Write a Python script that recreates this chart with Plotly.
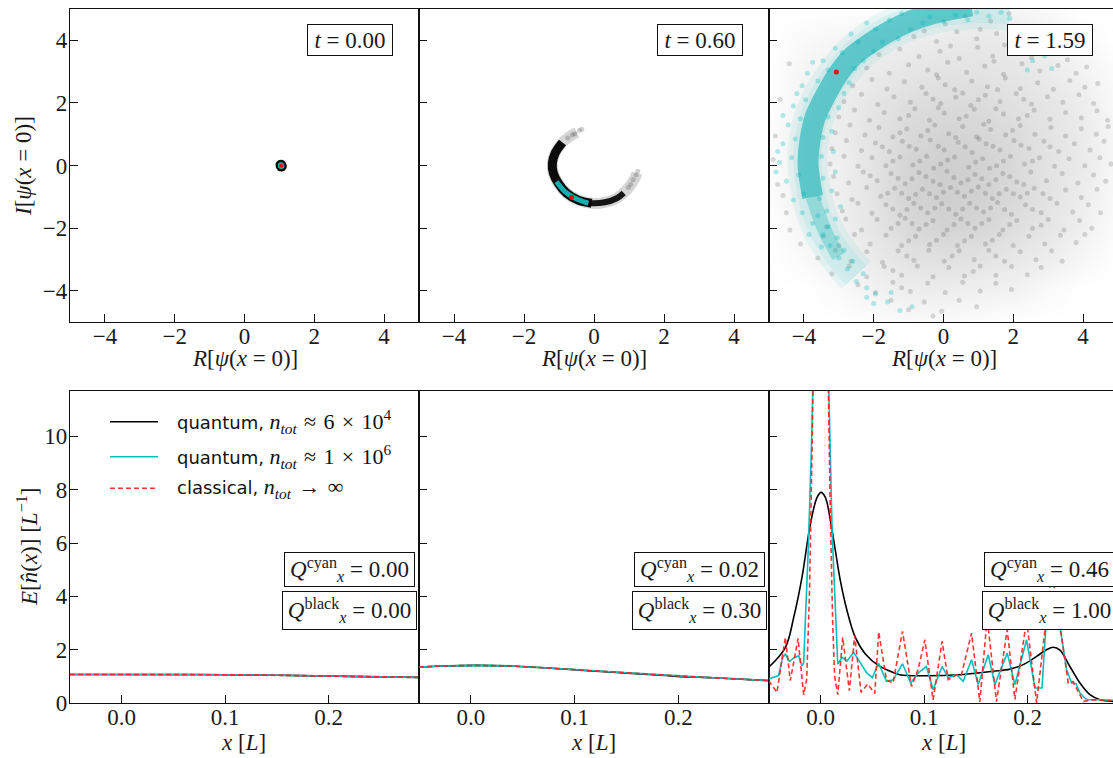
import plotly.graph_objects as go

# ---------------- data ----------------
t_labels = ["0.00", "0.60", "1.59"]
q_cyan = ["0.00", "0.02", "0.46"]
q_black = ["0.00", "0.30", "1.00"]

top_ticks = [-4, -2, 0, 2, 4]
bot_xticks = [0.0, 0.1, 0.2]
bot_xticktext = ["0.0", "0.1", "0.2"]
bot_yticks = [0, 2, 4, 6, 8, 10]

# t = 0.00 : all samples on one spot
t000_black = [(1.05, 0.0), (1.03, 0.02), (1.07, -0.02), (1.05, 0.03), (1.05, -0.03)]
t000_cyan = [(1.05, 0.0), (1.04, 0.01), (1.06, -0.01)]
t000_red = [(1.05, 0.0)]

# t = 0.60 : crescent
t060_fuzz = [(-0.49, 1.06), (-0.69, 0.93), (-0.92, 0.72), (-1.11, 0.40), (-1.19, 0.08),
             (-1.16, -0.24), (-1.02, -0.56), (-0.78, -0.88), (-0.45, -1.10), (-0.07, -1.20),
             (0.31, -1.17), (0.65, -1.04), (0.93, -0.78), (1.17, -0.40), (1.22, -0.24)]
t060_black_left = [(-0.90, 0.74), (-1.11, 0.40), (-1.19, 0.08), (-1.16, -0.24), (-1.02, -0.56),
                   (-0.78, -0.88), (-0.45, -1.10), (-0.07, -1.20)]
t060_black_right = [(-0.30, -1.15), (-0.07, -1.20), (0.31, -1.17), (0.65, -1.04), (0.85, -0.87)]
t060_tips = [(-0.42, 1.12), (-0.55, 1.02), (-0.62, 0.98), (-0.35, 1.16), (-0.75, 0.88),
             (1.25, -0.18), (1.20, -0.30), (1.12, -0.45), (1.05, -0.60), (0.98, -0.70)]
t060_cyan = [(-1.07, -0.51), (-0.83, -0.83), (-0.54, -1.04), (-0.16, -1.20)]
t060_red = [(-0.64, -1.01)]

# t = 1.59 : broad clouds
t159_grid_x = [-5, -4, -3, -2, -1, 0, 1, 2, 3, 4, 5]
t159_grid_y = [-5, -4, -3, -2, -1, 0, 1, 2, 3, 4, 5]
t159_gray_density = [
    [0.00, 0.00, 0.00, 0.05, 0.10, 0.10, 0.05, 0.00, 0.00, 0.00, 0.00],
    [0.00, 0.00, 0.10, 0.25, 0.35, 0.35, 0.30, 0.25, 0.10, 0.00, 0.00],
    [0.00, 0.10, 0.25, 0.40, 0.55, 0.60, 0.55, 0.45, 0.35, 0.15, 0.00],
    [0.00, 0.20, 0.30, 0.50, 0.75, 0.85, 0.80, 0.65, 0.50, 0.30, 0.05],
    [0.05, 0.30, 0.30, 0.55, 0.85, 0.95, 0.90, 0.75, 0.55, 0.35, 0.10],
    [0.05, 0.30, 0.30, 0.55, 0.85, 0.95, 0.90, 0.75, 0.55, 0.40, 0.15],
    [0.05, 0.30, 0.35, 0.55, 0.75, 0.85, 0.80, 0.70, 0.55, 0.40, 0.15],
    [0.00, 0.25, 0.35, 0.50, 0.65, 0.70, 0.70, 0.60, 0.50, 0.35, 0.10],
    [0.00, 0.20, 0.30, 0.40, 0.50, 0.55, 0.55, 0.50, 0.40, 0.25, 0.05],
    [0.00, 0.10, 0.20, 0.30, 0.35, 0.40, 0.45, 0.40, 0.30, 0.10, 0.00],
    [0.00, 0.00, 0.00, 0.00, 0.10, 0.20, 0.30, 0.20, 0.10, 0.00, 0.00],
]
t159_gray = [
    (0.62, 4.78), (1.35, 4.62), (1.88, 4.85), (2.21, 4.41), (0.05, 4.52), (1.05, 4.35),
    (-0.85, 4.12), (-0.2, 3.96), (0.38, 4.27), (0.95, 4.05), (1.52, 4.22), (2.03, 3.92),
    (2.48, 4.18), (2.95, 3.98), (-0.55, 4.3), (1.75, 3.85),
    (-1.85, 3.55), (-1.25, 3.72), (-0.7, 3.48), (-0.1, 3.65), (0.45, 3.42), (0.98, 3.78),
    (1.41, 3.5), (1.97, 3.66), (2.52, 3.45), (3.05, 3.62), (3.55, 3.38), (0.2, 3.82), (2.8, 3.8),
    (-4.42, 3.25), (-2.2, 3.12), (-1.55, 2.95), (-1.0, 3.22), (-0.45, 3.05), (0.12, 3.3),
    (0.66, 2.98), (1.18, 3.18), (1.72, 2.92), (2.25, 3.25), (2.76, 3.02), (3.28, 3.2),
    (3.8, 2.95), (4.1, 3.15), (-0.2, 2.9), (1.45, 3.33),
    (-2.6, 2.55), (-2.05, 2.75), (-1.62, 2.45), (-1.12, 2.68), (-0.62, 2.5), (-0.15, 2.8),
    (0.32, 2.42), (0.81, 2.7), (1.26, 2.52), (1.77, 2.8), (2.2, 2.46), (2.7, 2.65), (3.15, 2.44),
    (3.62, 2.72), (4.05, 2.5), (4.42, 2.62), (0.05, 2.58), (1.55, 2.42),
    (-4.68, 2.12), (-2.85, 2.05), (-2.35, 2.28), (-1.88, 1.95), (-1.42, 2.2), (-0.95, 2.02),
    (-0.5, 2.3), (-0.08, 1.98), (0.35, 2.18), (0.78, 1.92), (1.2, 2.25), (1.62, 2.05),
    (2.08, 2.3), (2.52, 1.96), (2.98, 2.2), (3.42, 2.02), (3.88, 2.26), (4.3, 1.98),
    (-0.3, 2.12), (1.0, 2.1), (2.3, 2.12), (0.55, 2.32),
    (-3.0, 1.55), (-2.55, 1.78), (-2.12, 1.45), (-1.7, 1.7), (-1.25, 1.5), (-0.82, 1.82),
    (-0.4, 1.45), (0.02, 1.68), (0.45, 1.5), (0.88, 1.8), (1.3, 1.42), (1.72, 1.65), (2.15, 1.5),
    (2.6, 1.78), (3.05, 1.48), (3.5, 1.7), (3.95, 1.52), (4.4, 1.75), (4.7, 1.45), (-0.15, 1.85),
    (0.65, 1.58), (1.5, 1.82), (2.4, 1.6), (-1.0, 1.6),
    (-4.82, 0.95), (-3.1, 1.05), (-2.68, 1.3), (-2.25, 0.98), (-1.85, 1.22), (-1.45, 0.92),
    (-1.05, 1.18), (-0.65, 0.95), (-0.25, 1.3), (0.15, 1.02), (0.55, 1.25), (0.95, 0.92),
    (1.35, 1.15), (1.78, 0.98), (2.2, 1.28), (2.62, 1.0), (3.08, 1.22), (3.5, 0.95),
    (3.95, 1.18), (4.38, 1.0), (4.72, 1.25), (-0.45, 1.12), (0.35, 0.9), (1.15, 1.32),
    (1.98, 1.12), (-1.25, 1.05),
    (-3.2, 0.55), (-2.78, 0.8), (-2.35, 0.48), (-1.95, 0.72), (-1.55, 0.45), (-1.18, 0.78),
    (-0.78, 0.52), (-0.38, 0.82), (0.02, 0.5), (0.42, 0.75), (0.82, 0.42), (1.22, 0.7),
    (1.62, 0.5), (2.02, 0.8), (2.45, 0.55), (2.88, 0.78), (3.3, 0.45), (3.75, 0.7), (4.2, 0.5),
    (4.6, 0.78), (-0.98, 0.62), (-0.15, 0.62), (0.62, 0.6), (1.42, 0.62), (2.22, 0.65),
    (-1.75, 0.6), (3.05, 0.6), (1.02, 0.85),
    (-4.88, 0.2), (-3.25, 0.05), (-2.85, 0.3), (-2.45, -0.02), (-2.05, 0.25), (-1.65, 0.0),
    (-1.25, 0.28), (-0.88, 0.02), (-0.48, 0.3), (-0.08, 0.05), (0.32, 0.28), (0.72, -0.05),
    (1.12, 0.22), (1.52, 0.0), (1.92, 0.3), (2.32, 0.05), (2.75, 0.25), (3.18, -0.02),
    (3.6, 0.22), (4.05, 0.0), (4.48, 0.25), (4.8, 0.05), (-1.45, 0.15), (-0.68, 0.15),
    (0.12, 0.18), (0.92, 0.12), (1.72, 0.15), (2.55, 0.15), (-0.28, -0.08), (1.32, -0.08),
    (-4.75, -0.6), (-3.15, -0.35), (-2.72, -0.55), (-2.3, -0.2), (-1.9, -0.48), (-1.5, -0.25),
    (-1.1, -0.58), (-0.7, -0.22), (-0.3, -0.5), (0.1, -0.18), (0.5, -0.55), (0.9, -0.28),
    (1.3, -0.6), (1.7, -0.25), (2.1, -0.52), (2.5, -0.2), (2.95, -0.48), (3.4, -0.25),
    (3.85, -0.55), (4.3, -0.3), (4.65, -0.5), (-1.3, -0.4), (-0.5, -0.35), (0.3, -0.38),
    (1.1, -0.42), (1.9, -0.35), (-0.9, -0.42), (0.7, -0.45), (1.5, -0.45), (-0.1, -0.6),
    (2.3, -0.6), (-2.1, -0.32),
    (-3.05, -0.9), (-2.62, -1.08), (-2.2, -0.7), (-1.8, -0.98), (-1.4, -0.72), (-1.0, -1.05),
    (-0.6, -0.75), (-0.2, -1.02), (0.2, -0.7), (0.6, -0.98), (1.0, -0.68), (1.4, -1.05),
    (1.8, -0.75), (2.2, -1.0), (2.6, -0.72), (3.05, -1.05), (3.5, -0.78), (3.95, -1.02),
    (4.4, -0.75), (-1.2, -0.88), (-0.4, -0.9), (0.4, -0.85), (1.2, -0.88), (2.0, -0.9),
    (-0.8, -0.92), (0.0, -0.85), (0.8, -0.82), (1.6, -0.9), (2.4, -0.88), (-1.6, -0.88),
    (-4.6, -0.95), (2.85, -0.9),
    (-2.9, -1.45), (-2.45, -1.2), (-2.05, -1.52), (-1.65, -1.25), (-1.25, -1.58), (-0.85, -1.2),
    (-0.45, -1.5), (-0.05, -1.22), (0.35, -1.55), (0.75, -1.2), (1.15, -1.48), (1.55, -1.18),
    (1.95, -1.55), (2.35, -1.25), (2.8, -1.5), (3.25, -1.2), (3.7, -1.48), (4.15, -1.25),
    (4.5, -1.5), (-1.45, -1.38), (-0.65, -1.35), (0.15, -1.38), (0.95, -1.35), (1.75, -1.4),
    (-1.05, -1.4), (-0.25, -1.35), (0.55, -1.38), (1.35, -1.35), (2.55, -1.4), (-4.5, -1.5),
    (-3.35, -1.95), (-2.8, -1.7), (-2.35, -2.05), (-1.9, -1.72), (-1.5, -2.0), (-1.1, -1.68),
    (-0.7, -2.02), (-0.3, -1.75), (0.1, -2.05), (0.5, -1.7), (0.9, -2.0), (1.3, -1.72),
    (1.7, -2.05), (2.1, -1.75), (2.55, -2.0), (3.0, -1.72), (3.45, -2.05), (3.9, -1.75),
    (4.25, -2.0), (-1.3, -1.85), (-0.5, -1.88), (0.3, -1.88), (1.1, -1.85), (1.9, -1.88),
    (-0.9, -1.85), (0.7, -1.85), (-4.4, -2.05), (2.8, -1.9),
    (-4.1, -2.5), (-3.45, -2.25), (-3.0, -2.55), (-2.55, -2.2), (-2.1, -2.5), (-1.65, -2.22),
    (-1.2, -2.55), (-0.8, -2.25), (-0.4, -2.52), (0.0, -2.2), (0.4, -2.55), (0.8, -2.25),
    (1.2, -2.5), (1.6, -2.2), (2.0, -2.55), (2.45, -2.25), (2.9, -2.5), (3.35, -2.22),
    (3.8, -2.45), (-1.0, -2.4), (-0.2, -2.38), (0.6, -2.4), (1.4, -2.38), (4.05, -2.2),
    (-3.6, -2.95), (-3.1, -2.7), (-2.65, -3.05), (-2.2, -2.75), (-1.75, -3.08), (-1.3, -2.72),
    (-0.85, -3.02), (-0.42, -2.7), (0.02, -3.05), (0.45, -2.72), (0.88, -3.0), (1.3, -2.7),
    (1.75, -3.05), (2.2, -2.75), (2.65, -3.0), (3.1, -2.72), (3.4, -3.05), (-1.05, -2.88),
    (0.25, -2.88), (1.5, -2.88),
    (-3.2, -3.45), (-2.7, -3.2), (-2.2, -3.55), (-1.7, -3.22), (-1.2, -3.5), (-0.75, -3.2),
    (-0.3, -3.55), (0.15, -3.25), (0.6, -3.52), (1.05, -3.2), (1.5, -3.5), (1.95, -3.22),
    (2.4, -3.48), (2.8, -3.25), (-1.45, -3.35), (0.85, -3.38),
    (-2.45, -3.8), (-1.95, -4.05), (-1.45, -3.72), (-0.95, -4.02), (-0.45, -3.75), (0.05, -4.05),
    (0.55, -3.72), (1.05, -4.0), (1.5, -3.75), (1.95, -3.95), (-1.2, -3.9),
    (-1.5, -4.3), (-1.0, -4.6), (-0.55, -4.35), (-0.05, -4.65), (0.45, -4.3), (0.95, -4.5),
    (-0.3, -4.8),
]
t159_cyan_halo = [(-2.5, -3.5), (-3.1, -2.7), (-3.55, -1.8),
                  (-3.8, -0.8), (-3.9, 0.3), (-3.75, 1.4), (-3.4, 2.3), (-2.95, 3.05),
                  (-2.4, 3.7), (-1.7, 4.25), (-0.9, 4.65), (0.0, 4.9), (1.0, 5.0), (1.9, 4.95)]
t159_cyan_tail = [(-3.0, -2.9), (-3.35, -2.2), (-3.6, -1.5), (-3.75, -1.0)]
t159_cyan_band = [(-3.75, -1.0), (-3.88, 0.0), (-3.85, 0.6), (-3.69, 1.5),
                  (-3.35, 2.3), (-2.97, 3.0), (-2.59, 3.5), (-2.11, 3.9), (-1.54, 4.3),
                  (-0.97, 4.6), (-0.3, 4.85), (0.3, 5.0), (0.8, 5.1)]
t159_cyan = [
    (-1.25, -4.62), (-0.9, -4.5), (-1.6, -4.35), (-1.95, -4.1), (-2.2, -3.9), (-2.5, -3.7),
    (-2.3, -3.45), (-2.75, -3.3), (-2.6, -3.05), (-3.0, -2.95), (-2.85, -2.7), (-3.25, -2.55),
    (-3.05, -2.3), (-3.45, -2.2), (-3.3, -1.95), (-3.75, -1.85), (-3.1, -1.7), (-3.6, -1.6),
    (-4.05, -1.5), (-3.35, -1.45), (-2.95, -1.3), (-2.0, -4.4), (-1.5, -4.05),
    (-4.3, -1.1), (-4.0, -0.9), (-3.55, -1.05), (-3.2, -0.8), (-4.5, -0.5), (-4.15, -0.3),
    (-3.45, -0.4), (-3.1, -0.2), (-4.7, 0.1), (-4.35, 0.25), (-3.5, 0.3), (-3.15, 0.45),
    (-4.6, 0.7), (-4.25, 0.85), (-3.45, 0.9), (-3.2, 1.1), (-4.45, 1.3), (-4.1, 1.5),
    (-3.3, 1.55), (-4.3, 1.9), (-3.0, 1.85), (-3.95, 2.1), (-2.85, 2.3), (-4.05, 2.55),
    (-3.6, 2.7), (-2.7, 2.65), (-3.3, 3.05), (-2.55, 3.1), (-3.45, 3.35), (-2.3, 3.35),
    (-2.9, 3.6), (-2.0, 3.65), (-3.1, 3.75), (-2.45, 3.95), (-1.75, 3.95), (-2.65, 4.2),
    (-1.95, 4.35), (-1.3, 4.05), (-2.2, 4.55), (-1.55, 4.65), (-0.95, 4.35), (-1.2, 4.85),
    (-0.6, 4.55), (-0.4, 4.75), (0.0, 4.6), (0.35, 4.8), (0.7, 4.65), (0.95, 4.9), (1.3, 4.78),
    (1.65, 4.9), (1.9, 4.7), (2.25, 3.6), (2.55, 3.35), (2.9, 3.5), (3.1, 3.1), (2.4, 3.05),
    (-3.75, 3.3), (-3.9, 2.95), (-4.2, 2.3), (-3.85, -2.2), (-3.5, -2.6), (-2.2, -4.2),
    (-4.6, 1.6), (-4.75, 0.45), (-4.8, -0.2),
]
t159_red = [(-3.07, 2.99)]

# bottom row: E[n(x)] profiles
p1_x = [-0.05, 0.0, 0.05, 0.10, 0.15, 0.20, 0.25, 0.2875]
p1_black = [1.07, 1.07, 1.07, 1.06, 1.04, 1.01, 0.98, 0.96]
p1_cyan = [1.07, 1.07, 1.07, 1.06, 1.04, 1.01, 0.98, 0.96]
p1_red = [1.07, 1.07, 1.07, 1.06, 1.04, 1.01, 0.98, 0.96]

p2_x = [-0.05, -0.027, 0.005, 0.038, 0.070, 0.099, 0.125, 0.151, 0.175, 0.199, 0.225, 0.248, 0.2875]
p2_black = [1.35, 1.39, 1.41, 1.39, 1.32, 1.25, 1.18, 1.12, 1.06, 1.00, 0.96, 0.92, 0.84]
p2_cyan = [1.35, 1.39, 1.41, 1.39, 1.32, 1.25, 1.18, 1.12, 1.06, 1.00, 0.96, 0.92, 0.84]
p2_red = [1.35, 1.39, 1.41, 1.39, 1.32, 1.25, 1.18, 1.12, 1.06, 1.00, 0.96, 0.92, 0.84]

p3_black_x = [-0.0503, -0.0342, -0.0261, -0.0181, -0.0100, -0.0035, 0.0003, 0.0045, 0.0094,
              0.0142, 0.0190, 0.0255, 0.0335, 0.0432, 0.0561, 0.0668, 0.0765, 0.1023, 0.1346,
              0.1507, 0.1668, 0.1830, 0.1959, 0.2088, 0.2184, 0.2249, 0.2314, 0.2410, 0.2507,
              0.2604, 0.2701, 0.2830]
p3_black = [1.34, 2.08, 3.21, 4.71, 6.71, 7.71, 7.90, 7.71, 6.84, 5.71, 4.59, 3.46, 2.46, 1.84,
            1.40, 1.20, 1.06, 1.02, 1.06, 1.12, 1.19, 1.27, 1.44, 1.75, 2.00, 2.09, 1.98, 1.37,
            0.75, 0.31, 0.12, 0.06]

p3_cyan_x = [-0.0503, -0.0407, -0.0368, -0.0342, -0.0303, -0.0252, -0.0213, -0.0181, -0.0165,
             -0.0120, -0.0087, -0.0065, 0.0, 0.0065, 0.0110, 0.0165, 0.0206, 0.0255, 0.0319,
             0.0368, 0.0445, 0.0500, 0.0559, 0.0636, 0.0700, 0.0791, 0.0870, 0.0942, 0.1022,
             0.1087, 0.1174, 0.1233, 0.1314, 0.1378, 0.1459, 0.1523, 0.1620, 0.1684, 0.1804,
             0.1878, 0.1991, 0.2072, 0.2140, 0.2185, 0.2250, 0.2297, 0.2378, 0.2427, 0.2470,
             0.2507, 0.2572, 0.2700, 0.2830]
p3_cyan = [0.90, 1.03, 1.71, 1.83, 1.56, 1.71, 1.77, 1.40, 1.50, 5.80, 9.90, 14.0, 16.0, 14.0,
           6.47, 1.46, 1.71, 1.58, 1.90, 1.58, 1.13, 0.95, 1.50, 0.81, 0.87, 1.47, 0.75, 1.12,
           1.37, 0.50, 1.37, 0.95, 1.06, 0.81, 1.62, 0.69, 1.81, 0.69, 1.87, 0.69, 2.37, 0.56,
           0.56, 3.30, 3.60, 3.30, 1.25, 0.75, 0.72, 0.37, 0.12, 0.12, 0.10]

p3_red_x = [-0.0503, -0.0423, -0.0342, -0.0294, -0.0219, -0.0165, -0.0135, -0.0108, -0.0085,
            -0.0065, 0.0, 0.0065, 0.0094, 0.0116, 0.0135, 0.0165, 0.0213, 0.0277, 0.0329, 0.0390,
            0.0455, 0.0523, 0.0561, 0.0636, 0.0700, 0.0791, 0.0878, 0.0942, 0.1007, 0.1087,
            0.1174, 0.1233, 0.1314, 0.1361, 0.1459, 0.1539, 0.1610, 0.1700, 0.1804, 0.1878,
            0.1991, 0.2088, 0.2235, 0.2394, 0.2440, 0.2540, 0.2650, 0.2750, 0.2830]
p3_red = [0.84, 0.40, 2.46, 0.84, 2.42, 0.31, 0.90, 4.21, 9.21, 14.0, 16.0, 14.0, 6.96, 3.00,
          1.00, 0.31, 2.46, 0.46, 2.53, 0.40, 0.71, 0.36, 2.66, 0.87, 0.75, 2.69, 0.62, 1.25,
          2.37, 0.12, 2.31, 0.87, 1.06, 1.06, 2.62, 0.04, 3.19, 0.05, 2.75, 0.13, 3.10, 0.00,
          5.00, 0.75, 0.80, 0.06, 0.12, 0.10, 0.08]

legend_labels = ["quantum,", "quantum,", "classical,"]
SP = "\u2004"
legend_math = ["<i>n</i><sub><i>tot</i></sub>" + SP + "≈" + SP + "6" + SP + "×" + SP + "10<sup>4</sup>",
               "<i>n</i><sub><i>tot</i></sub>" + SP + "≈" + SP + "1" + SP + "×" + SP + "10<sup>6</sup>",
               "<i>n</i><sub><i>tot</i></sub>" + SP + "→" + SP + "∞"]

# ---------------- styling ----------------
SERIF = "Liberation Serif"
TXT = "#1a1a1a"
BLACK = "#000000"
CYAN = "#00BFBF"
RED = "rgba(255,30,30,0.9)"
FS = 23

W, H = 1113, 758
ML, MR, MT, MB = 70, 0, 9, 55
PW, PH = W - ML - MR, H - MT - MB


def px2paper(px, py):
    return (px - ML) / PW, (H - MB - py) / PH


def xs(pts):
    return [p[0] for p in pts]


def ys(pts):
    return [p[1] for p in pts]


col_dom = [[0, 349 / PW], [349 / PW, 699 / PW], [699 / PW, 1.0]]
top_dom = [(H - MB - 322.3) / PH, 1.0]
bot_dom = [0.0, (H - MB - 391) / PH]

top_ranges = [[-5, 5], [-5, 5], [-5, -5 + 344 / 34.9]]
bot_ranges = [[-0.05, 0.2875], [-0.05, 0.2875], [-0.05, -0.05 + 344 / 1034]]

fig = go.Figure()


def add(trace, idx):
    suffix = "" if idx == 1 else str(idx)
    trace.update(xaxis="x" + suffix, yaxis="y" + suffix, showlegend=False, hoverinfo="skip")
    fig.add_trace(trace)


# ---- panel 1 (t=0.00)
add(go.Scatter(x=xs(t000_black), y=ys(t000_black), mode="markers",
               marker=dict(size=10, color="rgba(0,0,0,0.85)", line=dict(width=0))), 1)
add(go.Scatter(x=xs(t000_cyan), y=ys(t000_cyan), mode="markers",
               marker=dict(size=6, color="#16A9AA", line=dict(width=0))), 1)
add(go.Scatter(x=xs(t000_red), y=ys(t000_red), mode="markers",
               marker=dict(size=4, color="#FF0000", line=dict(width=0))), 1)

# ---- panel 2 (t=0.60)
add(go.Scatter(x=xs(t060_fuzz), y=ys(t060_fuzz), mode="lines", line_shape="spline",
               line=dict(width=11, color="rgba(0,0,0,0.16)")), 2)
add(go.Scatter(x=xs(t060_tips), y=ys(t060_tips), mode="markers",
               marker=dict(size=5, color="rgba(0,0,0,0.18)", line=dict(width=0))), 2)
add(go.Scatter(x=xs(t060_black_left), y=ys(t060_black_left), mode="lines", line_shape="spline",
               line=dict(width=9, color="rgba(0,0,0,0.95)")), 2)
add(go.Scatter(x=xs(t060_black_right), y=ys(t060_black_right), mode="lines", line_shape="spline",
               line=dict(width=6, color="rgba(0,0,0,0.9)")), 2)
add(go.Scatter(x=xs(t060_cyan), y=ys(t060_cyan), mode="lines", line_shape="spline",
               line=dict(width=5, color="#17AEAF")), 2)
add(go.Scatter(x=xs(t060_red), y=ys(t060_red), mode="markers",
               marker=dict(size=5, color="#FF0000", line=dict(width=0))), 2)

# ---- panel 3 (t=1.59)
add(go.Heatmap(x=t159_grid_x, y=t159_grid_y, z=t159_gray_density, zmin=0, zmax=1,
               zsmooth="best", showscale=False,
               colorscale=[[0, "rgba(0,0,0,0)"], [1, "rgba(0,0,0,0.2)"]]), 3)
add(go.Scatter(x=xs(t159_gray), y=ys(t159_gray), mode="markers",
               marker=dict(size=5, color="rgba(0,0,0,0.14)", line=dict(width=0))), 3)
add(go.Scatter(x=xs(t159_cyan_halo), y=ys(t159_cyan_halo), mode="lines", line_shape="spline",
               line=dict(width=40, color="rgba(0,191,191,0.07)")), 3)
add(go.Scatter(x=xs(t159_cyan_halo), y=ys(t159_cyan_halo), mode="lines", line_shape="spline",
               line=dict(width=28, color="rgba(0,191,191,0.08)")), 3)
add(go.Scatter(x=xs(t159_cyan), y=ys(t159_cyan), mode="markers",
               marker=dict(size=5, color="rgba(0,191,191,0.3)", line=dict(width=0))), 3)
add(go.Scatter(x=xs(t159_cyan_tail), y=ys(t159_cyan_tail), mode="lines", line_shape="spline",
               line=dict(width=14, color="rgba(0,175,177,0.28)")), 3)
add(go.Scatter(x=xs(t159_cyan_band), y=ys(t159_cyan_band), mode="lines", line_shape="spline",
               line=dict(width=21, color="rgba(0,172,175,0.55)")), 3)
add(go.Scatter(x=xs(t159_red), y=ys(t159_red), mode="markers",
               marker=dict(size=5, color="#FF0000", line=dict(width=0))), 3)

# ---- bottom panels
bottom = [
    (p1_x, p1_black, p1_x, p1_cyan, p1_x, p1_red),
    (p2_x, p2_black, p2_x, p2_cyan, p2_x, p2_red),
    (p3_black_x, p3_black, p3_cyan_x, p3_cyan, p3_red_x, p3_red),
]
for i, (bx, by, cx, cy, rx, ry) in enumerate(bottom):
    idx = 4 + i
    add(go.Scatter(x=bx, y=by, mode="lines", line_shape="spline",
                   line=dict(width=1.6, color=BLACK)), idx)
    add(go.Scatter(x=cx, y=cy, mode="lines", line=dict(width=1.6, color=CYAN)), idx)
    add(go.Scatter(x=rx, y=ry, mode="lines", line=dict(width=1.6, color=RED, dash="5px,3px")), idx)

# ---- axes
axis_common = dict(showline=True, linecolor="#111", linewidth=1.4, ticks="inside", ticklen=8,
                   tickwidth=1, tickcolor="#111", showgrid=False, zeroline=False,
                   tickfont=dict(family=SERIF, size=FS, color=TXT), fixedrange=True)
layout = {}
for c in range(3):
    for r in range(2):
        idx = 1 + c + 3 * r
        sfx = "" if idx == 1 else str(idx)
        xa = dict(axis_common, domain=col_dom[c], anchor="y" + sfx, mirror=True,
                  ticklabelstandoff=-7)
        ya = dict(axis_common, domain=top_dom if r == 0 else bot_dom, anchor="x" + sfx,
                  mirror=(c < 2), showticklabels=(c == 0), ticklabelstandoff=-3)
        if r == 0:
            xa.update(range=top_ranges[c], tickvals=top_ticks)
            ya.update(range=[-5, 5], tickvals=top_ticks)
        else:
            xa.update(range=bot_ranges[c], tickvals=bot_xticks, ticktext=bot_xticktext)
            ya.update(range=[0, 11.7], tickvals=bot_yticks)
        layout["xaxis" + sfx] = xa
        layout["yaxis" + sfx] = ya

annotations = []
shapes = []


def note(px, py, text, **kw):
    x, y = px2paper(px, py)
    d = dict(x=x, y=y, xref="paper", yref="paper", showarrow=False, xanchor="center",
             yanchor="middle", text=text, font=dict(family=SERIF, size=FS, color=TXT))
    d.update(kw)
    annotations.append(d)


centers_top = [244.5, 594.0, 944.0]
t_box_cx = [349.5, 699.5, 1049.5]
box = dict(bordercolor="#111", borderwidth=1, borderpad=0, bgcolor="white")
for c in range(3):
    note(centers_top[c], 358, "<i>R</i>[<i>ψ</i>(<i>x</i> = 0)]")
    note(centers_top[c] - 1, 743, "<i>x</i> [<i>L</i>]")
    note(t_box_cx[c], 40.5, "<i>t</i> = " + t_labels[c], width=84, height=30, **box)
    note(t_box_cx[c], 569, "<i>Q</i><sup>cyan</sup><sub><i>x</i></sub> = " + q_cyan[c],
         width=129, height=33, **box)
    note(t_box_cx[c], 610, "<i>Q</i><sup>black</sup><sub><i>x</i></sub> = " + q_black[c],
         width=133, height=37, **box)

note(24, 166, "<i>I</i>[<i>ψ</i>(<i>x</i> = 0)]", textangle=-90)
note(27, 547, "<i>E</i>[<i>n̂</i>(<i>x</i>)] [<i>L</i><sup>−1</sup>]", textangle=-90)

# legend (drawn manually)
leg_rows = [421.7, 456.7, 488.3]
leg_styles = [dict(color=BLACK, width=1.6), dict(color=CYAN, width=1.6),
              dict(color=RED, width=1.6, dash="5px,3px")]
for i in range(3):
    x0, y0 = px2paper(110, leg_rows[i])
    x1, _ = px2paper(158, leg_rows[i])
    shapes.append(dict(type="line", xref="paper", yref="paper", x0=x0, x1=x1, y0=y0, y1=y0,
                       line=leg_styles[i]))
    note(175, leg_rows[i],
         '<span style="font-family:DejaVu Sans;font-size:18px">' + legend_labels[i]
         + "</span> " + legend_math[i],
         xanchor="left", font=dict(family=SERIF, size=22, color="#111"))

fig.update_layout(**layout)
fig.update_layout(width=W, height=H, margin=dict(l=ML, r=MR, t=MT, b=MB, pad=0),
                  paper_bgcolor="white", plot_bgcolor="white", showlegend=False,
                  annotations=annotations, shapes=shapes)

fig.write_html("out.html", config={"displayModeBar": False, "responsive": False},
               post_script="document.body.style.margin='0px';")
